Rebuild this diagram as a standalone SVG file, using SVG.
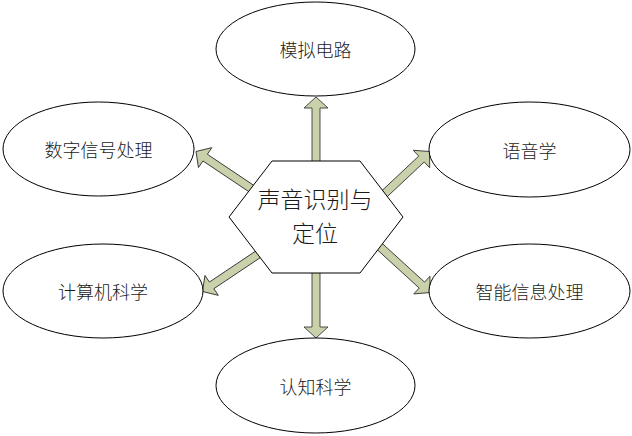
<svg xmlns="http://www.w3.org/2000/svg" width="632" height="436" viewBox="0 0 632 436">
<defs>
<style>
.node ellipse{fill:#ffffff;stroke:#000000;stroke-width:1}
.hex{fill:#ffffff;stroke:#000000;stroke-width:1}
.lbl{font-family:"Noto Sans CJK SC","Noto Sans CJK JP",sans-serif;font-size:18px;font-weight:300;fill:#1a1a1a;text-anchor:middle;dominant-baseline:central}
.big{font-size:23px}
.arr{fill:#c9d1aa;stroke:#3a3a3a;stroke-width:0.9;stroke-linejoin:miter}
</style>
</defs>
<rect width="632" height="436" fill="#ffffff"/>
<g id="connectors">
<polygon class="arr" transform="translate(316,97) rotate(-90)" points="-72,-4 -11,-4 -11,-12 0,0 -11,12 -11,4 -72,4"/>
<polygon class="arr" transform="translate(316,338) rotate(90)" points="-70,-4 -11,-4 -11,-12 0,0 -11,12 -11,4 -70,4"/>
<polygon class="arr" transform="translate(196,151.5) rotate(213.8)" points="-74,-4 -11,-4 -11,-12 0,0 -11,12 -11,4 -74,4"/>
<polygon class="arr" transform="translate(429.5,151.5) rotate(-43.2)" points="-70,-4 -11,-4 -11,-12 0,0 -11,12 -11,4 -70,4"/>
<polygon class="arr" transform="translate(202.5,291.5) rotate(146.2)" points="-70,-4 -11,-4 -11,-12 0,0 -11,12 -11,4 -70,4"/>
<polygon class="arr" transform="translate(430,292.5) rotate(42.4)" points="-74,-4 -11,-4 -11,-12 0,0 -11,12 -11,4 -74,4"/>
</g>
<g id="center">
<polygon class="hex" points="272,161 360,161 403,217 360,273 272,273 229,217"/>
<text class="lbl big" x="315" y="198">声音识别与</text>
<text class="lbl big" x="315" y="232">定位</text>
</g>
<g id="n-top" class="node">
<ellipse cx="315.5" cy="49" rx="99.5" ry="47"/>
<text class="lbl" x="315.5" y="49">模拟电路</text>
</g>
<g id="n-ul" class="node">
<ellipse cx="98.5" cy="149" rx="95.5" ry="47"/>
<text class="lbl" x="98.5" y="149">数字信号处理</text>
</g>
<g id="n-ur" class="node">
<ellipse cx="529.5" cy="149.5" rx="100.5" ry="47.5"/>
<text class="lbl" x="529.5" y="149.5">语音学</text>
</g>
<g id="n-ll" class="node">
<ellipse cx="103" cy="291" rx="100" ry="47"/>
<text class="lbl" x="103" y="291">计算机科学</text>
</g>
<g id="n-lr" class="node">
<ellipse cx="529.5" cy="291" rx="100.5" ry="47"/>
<text class="lbl" x="529.5" y="291">智能信息处理</text>
</g>
<g id="n-bottom" class="node">
<ellipse cx="315.5" cy="385.5" rx="99.5" ry="47.5"/>
<text class="lbl" x="315.5" y="385.5">认知科学</text>
</g>
</svg>
